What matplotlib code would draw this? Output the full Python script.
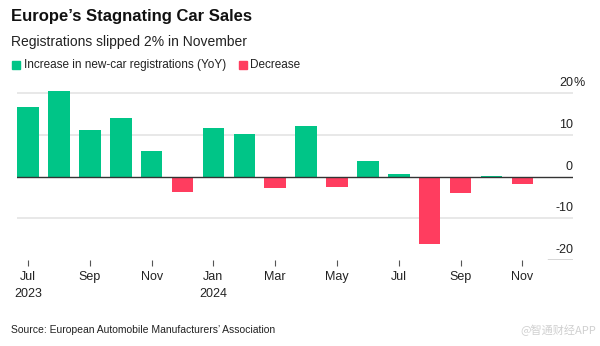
import matplotlib.pyplot as plt

plt.rcParams['font.family'] = ['Liberation Sans', 'DejaVu Sans']

# 資料
months = ['Jul', 'Aug', 'Sep', 'Oct', 'Nov', 'Dec', 'Jan', 'Feb', 'Mar',
          'Apr', 'May', 'Jun', 'Jul', 'Aug', 'Sep', 'Oct', 'Nov']
years = ['2023', '', '', '', '', '', '2024', '', '', '', '', '', '', '', '', '', '']
yoy_change = [16.8, 20.6, 11.2, 14.2, 6.2, -3.6, 11.6, 10.3, -2.6,
              12.1, -2.4, 3.8, 0.6, -16.2, -4.0, 0.2, -1.8]
y_ticks = [20, 10, 0, -10, -20]

green = '#00C587'
red = '#FF3D5F'

fig = plt.figure(figsize=(6, 3.46), dpi=100)
# 0 在 y=176.7px, 每 10 單位 41.67px
ax = fig.add_axes([17 / 600, 1 - 260 / 346, 556 / 600, (260 - 89.2) / 346])

x = list(range(len(yoy_change)))
colors = [green if v >= 0 else red for v in yoy_change]
ax.bar(x, yoy_change, width=0.7, color=colors, zorder=3)

# 格線
for g in [20, 10, -10]:
    ax.axhline(g, color='#e6e6e6', lw=1.3, zorder=1)
ax.axhline(0, color='#333333', lw=1.0, zorder=4)
ax.axhline(-20, xmin=0.955, xmax=1, color='#333333', lw=1.0, zorder=4)

ax.set_xlim(-0.36, 17.64)
ax.set_ylim(-20, 21)

# y 軸標籤 (右側, 在格線上方)
for t in y_ticks:
    ax.annotate(str(t), xy=(17.64, t), xytext=(0, 3), textcoords='offset points',
                ha='right', va='bottom', fontsize=9, color='#222222')
ax.annotate('%', xy=(17.64, 20), xytext=(0, 3), textcoords='offset points',
            ha='left', va='bottom', fontsize=9, color='#222222')

# x 軸
tick_pos = x[::2]
tick_lab = [months[i] + ('\n' + years[i] if years[i] else '') for i in tick_pos]
ax.set_xticks(tick_pos)
ax.set_xticklabels(tick_lab, fontsize=9, color='#222222', linespacing=1.5)
ax.tick_params(axis='x', length=4, width=0.8, color='#555555', pad=4)
ax.set_yticks([])
for s in ax.spines.values():
    s.set_visible(False)

# 標題與圖例
fig.text(11 / 600, 1 - 17 / 346, "Europe’s Stagnating Car Sales", fontsize=12,
         fontweight='bold', va='center', ha='left', color='#111111')
fig.text(11 / 600, 1 - 42 / 346, 'Registrations slipped 2% in November', fontsize=10,
         va='center', ha='left', color='#222222')
fig.patches.append(plt.Rectangle((12 / 600, 1 - 69 / 346), 8 / 600, 8 / 346,
                                 transform=fig.transFigure, color=green))
fig.text(24 / 600, 1 - 65 / 346, 'Increase in new-car registrations (YoY)', fontsize=8.5,
         va='center', ha='left', color='#222222')
fig.patches.append(plt.Rectangle((239 / 600, 1 - 69 / 346), 8 / 600, 8 / 346,
                                 transform=fig.transFigure, color=red))
fig.text(250 / 600, 1 - 65 / 346, 'Decrease', fontsize=8.5,
         va='center', ha='left', color='#222222')

fig.text(11 / 600, 1 - 330 / 346, 'Source: European Automobile Manufacturers’ Association',
         fontsize=7.5, va='center', ha='left', color='#222222')
fig.text(596 / 600, 1 - 330 / 346, '@智通财经APP', fontsize=8, va='center', ha='right',
         color='#d0d0d0', family=['Noto Sans CJK SC', 'DejaVu Sans'])

fig.savefig('out.png', dpi=100)
